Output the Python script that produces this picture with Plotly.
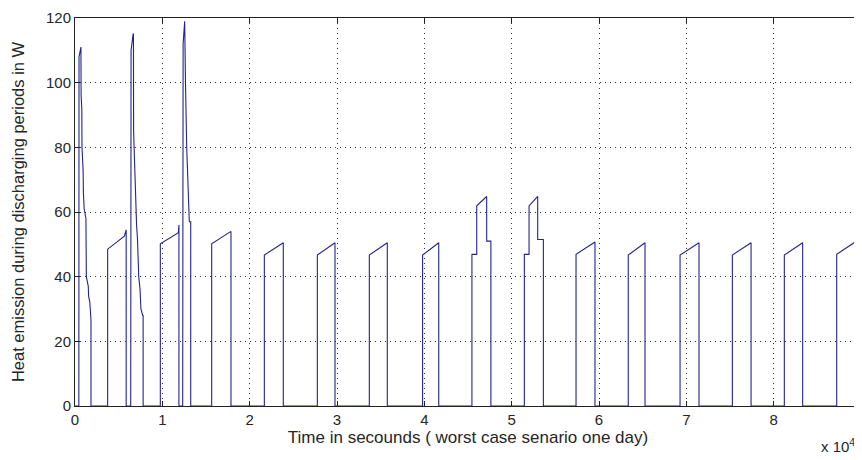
import plotly.graph_objects as go

# Time (s) and heat emission (W)
time_s = [
    0, 440, 460, 640, 680, 700, 780, 800, 930, 960, 1050, 1250, 1300, 1520, 1560, 1700, 1750, 1830, 1830,
    3740, 3740, 5650, 5860, 5860, 6380, 6380, 6420, 6650, 6690, 6710, 6760, 6820, 6900, 6960, 7050, 7150, 7300, 7450, 7550, 7750, 7800, 7800,
    9770, 9770, 11830, 11900, 11900, 12330, 12330, 12380, 12560, 12600, 12650, 12790, 12940, 13090, 13250, 13250,
    15650, 15650, 17860, 17860,
    21680, 21680, 23850, 23850,
    27750, 27750, 29770, 29770,
    33700, 33700, 35760, 35760,
    39800, 39800, 41650, 41650,
    45450, 45450, 46000, 46000, 47140, 47140, 47620, 47620,
    51450, 51450, 51990, 51990, 52980, 52980, 53630, 53630,
    57370, 57370, 59540, 59540,
    63350, 63350, 65270, 65270,
    69280, 69280, 71450, 71450,
    75270, 75270, 77410, 77410,
    81220, 81220, 83320, 83320,
    87220, 87220, 89310, 89450,
]
heat_w = [
    0, 0, 108, 111, 111, 96, 92, 80, 73, 66, 61, 58, 40, 37, 34, 32, 28, 26.5, 0,
    0, 48.5, 52.5, 54.5, 0, 0, 53, 110, 115, 115, 85, 80, 72, 68, 60, 56, 52, 40, 36, 30, 28, 28, 0,
    0, 50.2, 53.6, 56, 0, 0, 56, 112, 119, 102, 100, 80, 66, 57, 57, 0,
    0, 50.2, 54, 0,
    0, 46.7, 50.5, 0,
    0, 46.7, 50.5, 0,
    0, 46.7, 50.5, 0,
    0, 46.7, 50.5, 0,
    0, 46.9, 46.9, 61.9, 64.8, 51, 51, 0,
    0, 46.9, 46.9, 61.9, 64.8, 51.5, 51.5, 0,
    0, 46.9, 50.7, 0,
    0, 46.7, 50.5, 0,
    0, 46.7, 50.5, 0,
    0, 46.7, 50.5, 0,
    0, 46.7, 50.5, 0,
    0, 46.9, 50.7, 52.6,
]

x_tickvals = [0, 10000, 20000, 30000, 40000, 50000, 60000, 70000, 80000, 90000]
x_ticktext = ["0", "1", "2", "3", "4", "5", "6", "7", "8", "9"]
y_tickvals = [0, 20, 40, 60, 80, 100, 120]

font_family = "Liberation Sans, Arial, sans-serif"
text_color = "#262626"

fig = go.Figure()
fig.add_trace(go.Scatter(
    x=time_s, y=heat_w, mode="lines",
    line=dict(color="#24248a", width=1.1),
    showlegend=False, hoverinfo="skip",
))

axis_common = dict(
    showline=True, linecolor="#222222", linewidth=1, mirror="ticks",
    ticks="inside", ticklen=5, tickcolor="#222222", tickwidth=1,
    showgrid=True, gridcolor="#333333", gridwidth=1, griddash="1px,4px",
    zeroline=False, automargin=False, ticklabeloverflow="allow",
    tickfont=dict(family=font_family, size=15, color=text_color),
)

# The page body adds an 8px offset, so the figure is sized to fill the window from there.
fig.update_layout(
    width=854, height=452,
    margin=dict(l=67, r=1, t=10, b=54),
    paper_bgcolor="white", plot_bgcolor="white",
    font=dict(family=font_family, color=text_color),
    xaxis=dict(
        range=[0, 90000], tickvals=x_tickvals, ticktext=x_ticktext,
        title=dict(text="Time in secounds ( worst case senario one day)",
                   font=dict(family=font_family, size=17, color=text_color), standoff=2),
        **axis_common,
    ),
    yaxis=dict(
        range=[0, 120], tickvals=y_tickvals,
        title=dict(text="Heat emission during discharging periods in W",
                   font=dict(family=font_family, size=16.5, color=text_color), standoff=17),
        **axis_common,
    ),
    annotations=[dict(
        text="x 10<sup>4</sup>", xref="paper", yref="paper", x=0.995, y=-0.131,
        xanchor="right", yanchor="bottom", showarrow=False,
        font=dict(family=font_family, size=15, color=text_color),
    )],
)

fig.write_html("out.html")
